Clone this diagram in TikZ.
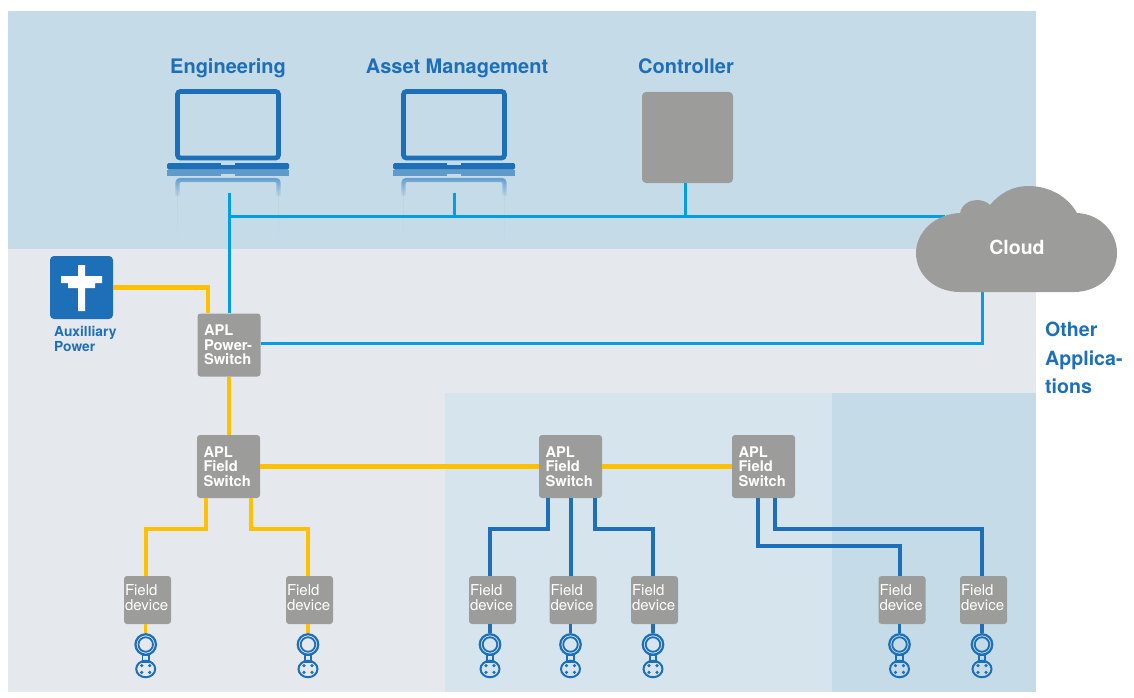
\documentclass[tikz,border=0pt]{standalone}
\usepackage{fontspec}
\setmainfont{TeX Gyre Heros}
\usetikzlibrary{fadings,calc,shapes.geometric}
\definecolor{bgtop}{HTML}{C5DCE8}
\definecolor{bgmid}{HTML}{E5E9ED}
\definecolor{bgin}{HTML}{D6E5ED}
\definecolor{blk}{HTML}{1D6FB8}
\definecolor{cyn}{HTML}{009FE3}
\definecolor{yel}{HTML}{FFC000}
\definecolor{gry}{HTML}{9C9D9B}
\tikzfading[name=reflthick,top color=transparent!45,bottom color=transparent!100]
\tikzfading[name=reflthin,top color=transparent!92,bottom color=transparent!100]
\tikzset{
 x=1pt,y=-1pt,
 title/.style={font=\bfseries\fontsize{20}{20}\selectfont,text=blk,inner sep=0pt,anchor=base},
 swbox/.style={fill=gry,rounded corners=3pt,minimum width=63pt,minimum height=63pt,inner xsep=6.5pt,inner ysep=0pt,text width=50pt,align=left,text=white,font=\bfseries\fontsize{14.7}{14.7}\selectfont},
 devbox/.style={fill=gry,rounded corners=3pt,minimum width=47pt,minimum height=48pt,inner xsep=1pt,inner ysep=0pt,text width=45pt,align=left,text=white,font=\fontsize{15}{15}\selectfont},
 cyanline/.style={draw=cyn,line width=3pt},
 yelline/.style={draw=yel,line width=4.1pt},
 blueline/.style={draw=blk,line width=4pt},
 ringnode/.style={circle,draw=blk,line width=2.2pt,minimum size=20.5pt,inner sep=0pt},
}
\newcommand{\laptop}[1]{%
 \begin{scope}[shift={(#1,0)}]
 \draw[blk,line width=4.8pt,rounded corners=3pt] (-50.5,91.5) rectangle (50.5,158);
 \fill[blk,rounded corners=1.5pt] (-61,163) -- (61,163) -- (61,169.5) -- (-61,169.5) -- cycle;
 \fill[bgtop] (-7,163) rectangle (7,165);
 \fill[blk,opacity=.6] (-61,170) rectangle (61,176);
 \fill[bgtop] (-7,174) rectangle (7,176);
 \draw[blk,line width=4.4pt,rounded corners=3pt,path fading=reflthick] (-50.5,196) -- (-50.5,180) -- (50.5,180) -- (50.5,196);
 \draw[blk,line width=1pt,path fading=reflthin] (-50.5,180) rectangle (50.5,248);
 \end{scope}}
\begin{document}
\begin{tikzpicture}
\useasboundingbox (0,0) rectangle (1134,698);
% backgrounds
\fill[bgtop] (8,11) rectangle (1036,249);
\fill[bgmid] (8,249) rectangle (1036,692);
\fill[bgin] (445,393) rectangle (832,692);
\fill[bgtop] (832,393) rectangle (1036,692);
% computers
\laptop{228}
\laptop{454}
\coordinate (eng) at (229,192.5);
\coordinate (asset) at (454,192.5);
\node[fill=gry,rounded corners=4pt,minimum width=91pt,minimum height=91pt,inner sep=0pt] (ctrl) at (687.5,137.5) {};
\node[title] (tEng) at (228,74) {Engineering};
\node[title] (tAsset) at (457,74) {Asset Management};
\node[title] (tCtrl) at (686,74) {Controller};
% aux power
\node[fill=blk,rounded corners=4pt,minimum width=63pt,minimum height=63pt,inner sep=0pt] (aux) at (81.5,287.5) {};
\fill[white] (78,265) -- (85,265) -- (85,276) -- (102,276) -- (102,283) -- (95,283) -- (95,288) -- (85,288) -- (85,311) -- (78,311) -- (78,288) -- (68,288) -- (68,283) -- (61,283) -- (61,276) -- (78,276) -- cycle;
\node[anchor=north west,inner sep=0pt,align=left,text=blk,font=\bfseries\fontsize{13.8}{15}\selectfont] (tAux) at (54,326) {Auxilliary\\Power};
\node[anchor=north west,inner sep=0pt,align=left,text=blk,font=\bfseries\fontsize{19.6}{28.5}\selectfont] (tOther) at (1045,322) {Other\\Applica-\\tions};
% switches
\node[swbox] (psw) at (229,345) {APL\\Power-\\Switch};
\node[swbox] (fsa) at (228.5,466.5) {APL\\Field\\Switch};
\node[swbox] (fsb) at (570.5,466.5) {APL\\Field\\Switch};
\node[swbox] (fsc) at (763.5,466.5) {APL\\Field\\Switch};
% field devices
\foreach \n/\x/\r in {a/147.5/145.7,b/309.5/308,c/492.5/490,d/573/570.5,e/654.5/653,f/902/899.5,g/983.5/982}{
 \node[devbox] (fd\n) at (\x,600) {Field\\device\par\vspace{5pt}};
 \node[ringnode] (ring\n) at (\r,644.5) {};
 \node[circle,draw=blk,line width=1.8pt,minimum size=14.5pt,inner sep=0pt] (inner\n) at (\r,644.5) {};
 \node[draw=blk,line width=1.8pt,minimum width=6.5pt,minimum height=6.5pt,inner sep=0pt] (neck\n) at (\r,658.5) {};
 \node[ellipse,draw=blk,line width=2pt,minimum width=19pt,minimum height=16.5pt,inner sep=0pt] (plug\n) at (\r,669) {};
 \foreach \dx in {-4,4}\foreach \dy in {-3.4,3.4}{
  \fill[blk] ($(plug\n.center)+(\dx,\dy)$) circle[radius=1.8pt];
 }
}
% connectors
\coordinate (busL) at (229,216.5);
\coordinate (cloudW) at (945,216.5);
\coordinate (cloudS) at (982.5,290);
\draw[cyanline] (eng) -- (psw.north);
\draw[cyanline] (busL) -- (cloudW);
\draw[cyanline] (asset) -- (asset |- busL);
\draw[cyanline] (685,183) -- (685,216.5);
\draw[cyanline] (psw.east |- 0,343.5) -- (982.5,343.5) -- (cloudS);
\draw[yelline] (aux.east) -- (208,287.5) -- ($(psw.north)+(-21,0)$);
\draw[yelline] (psw.south) -- (fsa.north -| psw.south);
\draw[yelline] (fsa.east) -- (fsb.west);
\draw[yelline] (fsb.east) -- (fsc.west);
\draw[yelline] ($(fsa.south)+(-22.5,0)$) -- (206,529) -- (145.7,529) -- (ringa.north |- fda.north);
\draw[yelline] ($(fsa.south)+(22.5,0)$) -- (251,529) -- (308,529) -- (ringb.north |- fdb.north);
\draw[blueline] ($(fsb.south)+(-22.5,0)$) -- (548,529) -- (490,529) -- (ringc.north |- fdc.north);
\draw[blueline] (fsb.south) -- (ringd.north |- fdd.north);
\draw[blueline] ($(fsb.south)+(24.5,0)$) -- (595,529) -- (653,529) -- (ringe.north |- fde.north);
\draw[blueline] ($(fsc.south)+(-5.5,0)$) -- (758,546) -- (899.5,546) -- (ringf.north |- fdf.north);
\draw[blueline] ($(fsc.south)+(11.5,0)$) -- (775,529) -- (982,529) -- (ringg.north |- fdg.north);
\foreach \n/\c in {a/yel,b/yel,c/blk,d/blk,e/blk,f/blk,g/blk}{
 \draw[draw=\c,line width=3.4pt] (ring\n.north |- fd\n.south) -- (ring\n.north);
}
% cloud
\fill[gry] (960,292) .. controls (935,292) and (916,275) .. (916,253)
 .. controls (916,232) and (935,214) .. (960,213)
 .. controls (962,204) and (970,200) .. (977,200)
 .. controls (982,200) and (987,202) .. (990,205)
 .. controls (1000,193) and (1013,186) .. (1028,186)
 .. controls (1050,186) and (1068,197) .. (1077,213)
 .. controls (1100,214) and (1117,232) .. (1117,253)
 .. controls (1117,275) and (1098,292) .. (1074,292) -- cycle;
\node[text=white,font=\bfseries\fontsize{19.5}{19.5}\selectfont,inner sep=0pt] (cloud) at (1017,247) {Cloud};
\end{tikzpicture}
\end{document}
